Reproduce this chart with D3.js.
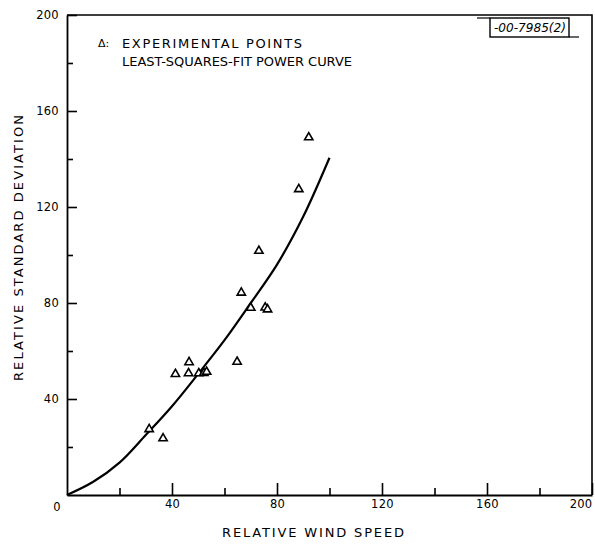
<!DOCTYPE html>
<html>
<head>
<meta charset="utf-8">
<script src="https://cdn.jsdelivr.net/npm/d3@7"></script>
<style>
  html, body { margin: 0; padding: 0; background: #fff; }
  svg { display: block; }
  text { font-family: "DejaVu Sans", "Liberation Sans", Arial, sans-serif; fill: #000; }
</style>
</head>
<body>
<div id="chart"></div>
<script>
// ---- data ----
const windSpeed = [31.3, 36.6, 41.3, 46.5, 46.3, 50.2, 52.1, 53.2, 64.8, 66.4, 70.0, 75.5, 76.4, 73.1, 88.3, 92.1];
const stdDev    = [27.4, 23.6, 50.4, 55.3, 50.7, 50.7, 50.8, 51.3, 55.5, 84.3, 78.0, 78.1, 77.3, 101.7, 127.4, 149.0];

const fitWind = [0, 10, 20, 30, 40, 50, 60, 70, 80, 90, 100];
const fitDev  = [0, 5.5, 13.5, 25, 37, 50.5, 64.5, 80, 96, 116, 140.5];

const xMajorTicks = [40, 80, 120, 160, 200];
const xMinorTicks = [20, 60, 100, 140, 180];
const yMajorTicks = [40, 80, 120, 160, 200];
const yMinorTicks = [20, 60, 100, 140, 180];

const xTitle = "RELATIVE WIND SPEED";
const yTitle = "RELATIVE STANDARD DEVIATION";
const legendLines = ["EXPERIMENTAL POINTS", "LEAST-SQUARES-FIT POWER CURVE"];
const figureId = "-00-7985(2)";

// ---- drawing ----
const W = 595, H = 544;
const svg = d3.select("#chart").append("svg").attr("width", W).attr("height", H);

const x = d3.scaleLinear().domain([0, 200]).range([67, 592]);
const y = d3.scaleLinear().domain([0, 200]).range([495, 15]);

const ink = "#000";
const font = "'DejaVu Sans', 'Liberation Sans', Arial, sans-serif";

// frame (top and right)
svg.append("path")
  .attr("d", `M${x(0)},${y(200)} H${x(200)} V${y(0)}`)
  .attr("fill", "none").attr("stroke", ink).attr("stroke-width", 1.6);

// x axis
const gx = svg.append("g").attr("transform", `translate(0,${y(0)})`);
gx.call(d3.axisBottom(x).tickValues(xMajorTicks).tickSizeInner(-12).tickSizeOuter(0).tickPadding(5));
const gxm = svg.append("g").attr("transform", `translate(0,${y(0)})`);
gxm.call(d3.axisBottom(x).tickValues(xMinorTicks).tickSizeInner(-7).tickSizeOuter(0).tickFormat(""));
gxm.select(".domain").remove();
// keep the edge label inside the window
gx.selectAll(".tick text").filter(d => d === 200).attr("text-anchor", "end").attr("dx", 0);

// y axis
const gy = svg.append("g").attr("transform", `translate(${x(0)},0)`);
gy.call(d3.axisLeft(y).tickValues(yMajorTicks).tickSizeInner(-10).tickSizeOuter(0).tickPadding(8));
const gym = svg.append("g").attr("transform", `translate(${x(0)},0)`);
gym.call(d3.axisLeft(y).tickValues(yMinorTicks).tickSizeInner(-6).tickSizeOuter(0).tickFormat(""));
gym.select(".domain").remove();

svg.selectAll(".domain").attr("stroke", ink).attr("stroke-width", 1.8);
svg.selectAll(".tick line").attr("stroke", ink).attr("stroke-width", 1.6);
svg.selectAll(".tick text")
  .attr("font-family", font)
  .attr("font-size", 11.5).attr("fill", ink).attr("letter-spacing", 0.3);

// shared origin label
svg.append("text").attr("x", x(0) - 10).attr("y", y(0) + 16)
  .attr("text-anchor", "middle").attr("font-size", 11.5).text("0");

// fitted curve
const pts = fitWind.map((w, i) => [w, fitDev[i]]);
svg.append("path")
  .datum(pts)
  .attr("d", d3.line().x(d => x(d[0])).y(d => y(d[1])).curve(d3.curveCatmullRom.alpha(0.5)))
  .attr("fill", "none").attr("stroke", ink).attr("stroke-width", 2.2);

// experimental points
const tri = d3.symbol().type(d3.symbolTriangle).size(30);
svg.append("g").selectAll("path")
  .data(windSpeed.map((w, i) => [w, stdDev[i]]))
  .join("path")
  .attr("d", tri)
  .attr("transform", d => `translate(${x(d[0])},${y(d[1])})`)
  .attr("fill", "#fff").attr("stroke", ink).attr("stroke-width", 1.6);

// legend
svg.append("text").attr("x", 98).attr("y", 47).attr("font-size", 11).text("Δ:");
svg.append("text").attr("x", 122).attr("y", 48).attr("font-size", 13)
  .attr("textLength", 180).attr("lengthAdjust", "spacing").text(legendLines[0]);
svg.append("text").attr("x", 122).attr("y", 66).attr("font-size", 13)
  .attr("textLength", 230).attr("lengthAdjust", "spacing").text(legendLines[1]);

// figure id box
svg.append("rect").attr("x", 490).attr("y", 18).attr("width", 79).attr("height", 19)
  .attr("fill", "none").attr("stroke", ink).attr("stroke-width", 1.4);
svg.append("line").attr("x1", 477).attr("x2", 490).attr("y1", 18).attr("y2", 18)
  .attr("stroke", ink).attr("stroke-width", 1.2);
svg.append("line").attr("x1", 569).attr("x2", 579).attr("y1", 37).attr("y2", 37)
  .attr("stroke", ink).attr("stroke-width", 1.2);
svg.append("text").attr("x", 494).attr("y", 32).attr("font-size", 12)
  .attr("font-style", "italic").attr("textLength", 72).attr("lengthAdjust", "spacingAndGlyphs")
  .text(figureId);

// axis titles
svg.append("text").attr("x", 313).attr("y", 537).attr("text-anchor", "middle")
  .attr("font-size", 13).attr("textLength", 182).attr("lengthAdjust", "spacing").text(xTitle);
svg.append("text").attr("transform", "translate(23,248) rotate(-90)")
  .attr("text-anchor", "middle").attr("font-size", 13)
  .attr("textLength", 266).attr("lengthAdjust", "spacing").text(yTitle);
</script>
</body>
</html>
